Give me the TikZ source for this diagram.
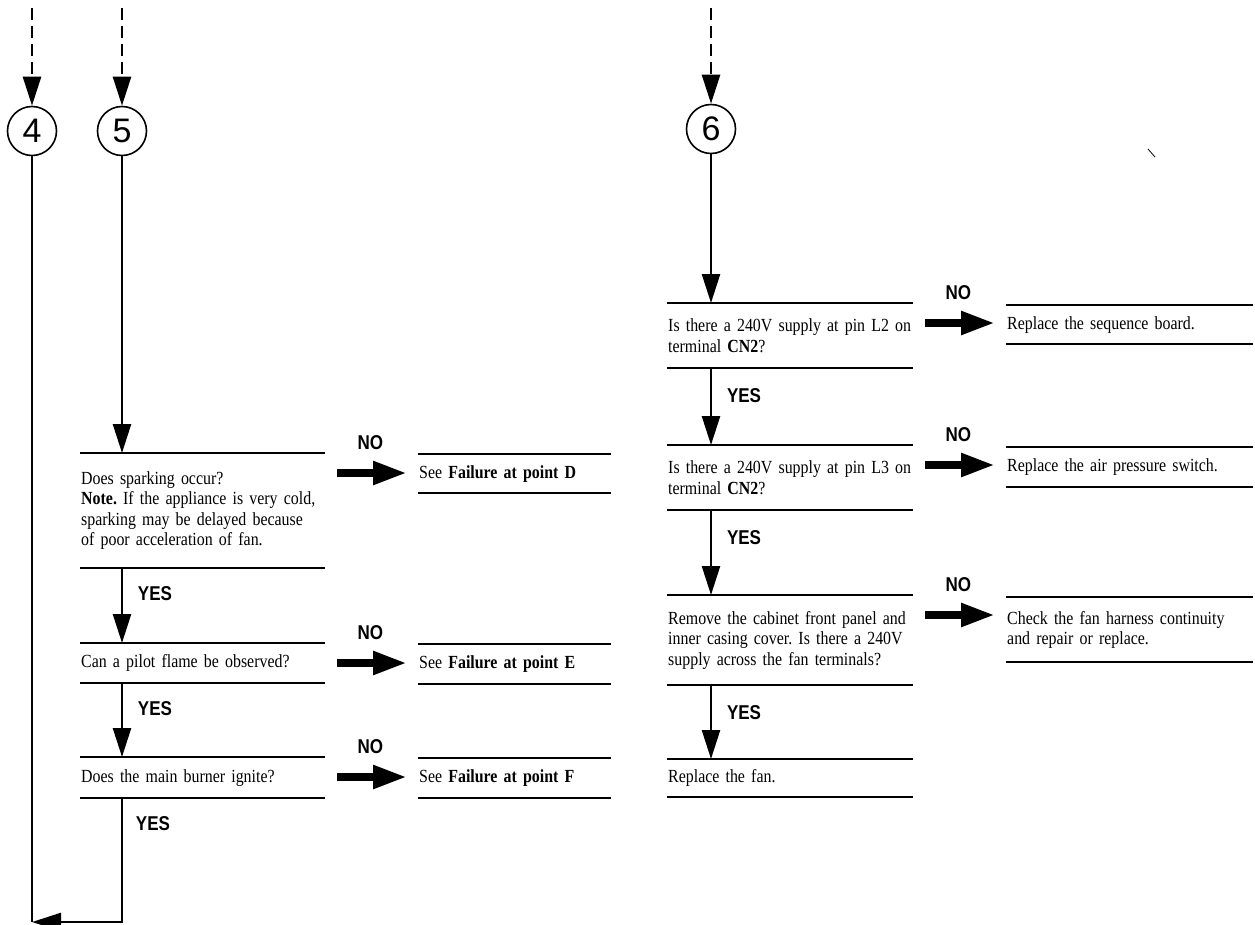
\documentclass[tikz,border=0pt]{standalone}
\usepackage{fontspec}
\setmainfont{Liberation Serif}[FakeStretch=0.86,WordSpace=0.75]
\newfontfamily\ynfont{Liberation Sans}[FakeStretch=0.85]
\newfontfamily\numfont{Liberation Sans}
\usetikzlibrary{arrows.meta,calc}
\frenchspacing
\begin{document}
\begin{tikzpicture}[x=1pt,y=-1pt,
  boxtext/.style={font=\fontsize{18.5}{20.5}\selectfont},
  qbox/.style 2 args={anchor=north west, inner xsep=1pt, inner ysep=0pt,
    text width=#1, minimum height=#2, align=left, boxtext},
  rule/.style={line width=2pt},
  flow/.style={line width=2.5pt, -{Triangle[length=29pt,width=18pt]}},
  plain/.style={line width=2.5pt},
  dflow/.style={flow, dash pattern=on 12pt off 6pt},
  noarr/.style={line width=8pt, -{Triangle[length=34pt,width=22pt]}},
  yn/.style={font=\ynfont\bfseries\fontsize{20}{20}\selectfont, inner sep=0pt},
  circ/.style={circle, draw, line width=1.6pt, minimum size=49pt, inner sep=0pt,
    font=\numfont\fontsize{34}{34}\selectfont}
]
\fill[white] (0,0) rectangle (1255,924);
\useasboundingbox (0,0) rectangle (1255,924);
\clip (0,0) rectangle (1255,924);

% ---------- connector circles ----------
\node[circ] (c4) at (32,131) {4};
\node[circ] (c5) at (122,131) {5};
\node[circ] (c6) at (711,129) {6};
\coordinate (d4) at (32,8);
\coordinate (d5) at (122,8);
\coordinate (d6) at (711,8);
\draw[dflow] (d4) -- (c4.north);
\draw[dflow] (d5) -- (c5.north);
\draw[dflow] (d6) -- (c6.north);

% ---------- left column ----------
\node[qbox={243pt}{115pt}] (b1) at (80,453)
  {Does sparking occur?\\\textbf{Note.} If the appliance is very cold,\\sparking may be delayed because\\of poor acceleration of fan.};
\node[qbox={243pt}{40pt}] (b2) at (80,643) {Can a pilot flame be observed?};
\node[qbox={243pt}{41pt}] (b3) at (80,757) {Does the main burner ignite?};

\node[qbox={191pt}{39pt}] (r1) at (418,454) {See \textbf{Failure at point D}};
\node[qbox={191pt}{40pt}] (r2) at (418,644) {See \textbf{Failure at point E}};
\node[qbox={191pt}{40pt}] (r3) at (418,758) {See \textbf{Failure at point F}};

% ---------- right column ----------
\node[qbox={244pt}{65pt}] (q1) at (667,303)
  {\mbox{Is there a 240V supply at pin L2 on}\\terminal \textbf{CN2}?};
\node[qbox={244pt}{65pt}] (q2) at (667,445)
  {\mbox{Is there a 240V supply at pin L3 on}\\terminal \textbf{CN2}?};
\node[qbox={244pt}{90pt}] (q3) at (667,595)
  {\mbox{Remove the cabinet front panel and}\\\mbox{inner casing cover. Is there a 240V}\\supply across the fan terminals?};
\node[qbox={244pt}{38pt}] (q4) at (667,759) {Replace the fan.};

\node[qbox={245pt}{39pt}] (s1) at (1006,305) {Replace the sequence board.};
\node[qbox={245pt}{40pt}] (s2) at (1006,447) {Replace the air pressure switch.};
\node[qbox={245pt}{65pt}] (s3) at (1006,597)
  {Check the fan harness continuity\\and repair or replace.};

\foreach \n in {b1,b2,b3,r1,r2,r3,q1,q2,q3,q4,s1,s2,s3}
  \draw[rule] (\n.north west) -- (\n.north east) (\n.south west) -- (\n.south east);

% ---------- NO branches ----------
\foreach \a/\b/\m in {b1/r1/n1,b2/r2/n2,b3/r3/n3,q1/s1/n4,q2/s2/n5,q3/s3/n6}{
  \draw[noarr] ($(\a.north east)+(12,20)$) -- ($(\b.west |- \a.north)+(-11,20)$);
  \node[yn] (\m) at ($(\a.north east)+(45,-10)$) {NO};
}

% ---------- YES flow, column 5 ----------
\draw[flow] (c5.south) -- (c5.south |- b1.north);
\draw[flow] (b1.south -| c5) -- (b2.north -| c5);
\draw[flow] (b2.south -| c5) -- (b3.north -| c5);
\coordinate (bot) at (0,922);
\draw[plain] (c4.south) -- (bot -| c4);
\draw[flow] (b3.south -| c5) |- (bot -| c4);
\node[yn] (y1) at ($(b1.south -| c5)+(33,25)$) {YES};
\node[yn] (y2) at ($(b2.south -| c5)+(33,25)$) {YES};
\node[yn] (y3) at ($(b3.south -| c5)+(31,25)$) {YES};

% ---------- YES flow, column 6 ----------
\draw[flow] (c6.south) -- (c6.south |- q1.north);
\draw[flow] (q1.south -| c6) -- (q2.north -| c6);
\draw[flow] (q2.south -| c6) -- (q3.north -| c6);
\draw[flow] (q3.south -| c6) -- (q4.north -| c6);
\node[yn] (y4) at ($(q1.south -| c6)+(33,27)$) {YES};
\node[yn] (y5) at ($(q2.south -| c6)+(33,27)$) {YES};
\node[yn] (y6) at ($(q3.south -| c6)+(33,27)$) {YES};

% stray scan mark
\draw[line width=0.8pt] (1148,149) -- (1155,157);
\end{tikzpicture}
\end{document}
